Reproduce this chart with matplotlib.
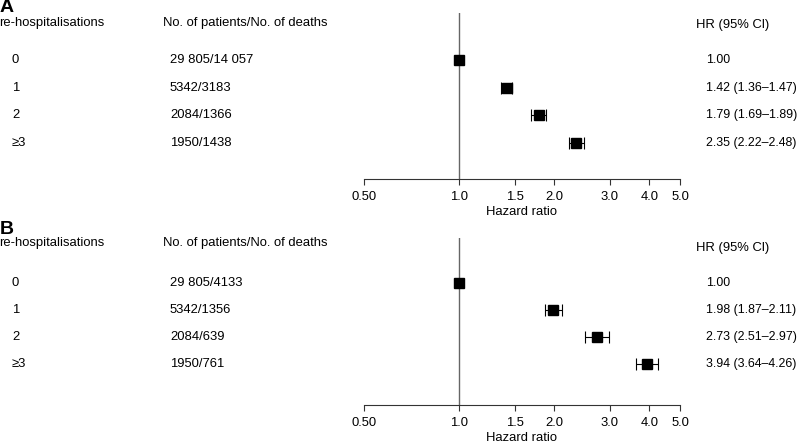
import matplotlib.pyplot as plt
import matplotlib.transforms as mtransforms

plt.rcParams['font.family'] = ['Liberation Sans', 'DejaVu Sans']

# data
groups = ['0', '1', '2', '\u22653']
counts_a = ['29 805/14 057', '5342/3183', '2084/1366', '1950/1438']
hr_a = [1.00, 1.42, 1.79, 2.35]
lo_a = [1.00, 1.36, 1.69, 2.22]
hi_a = [1.00, 1.47, 1.89, 2.48]
counts_b = ['29 805/4133', '5342/1356', '2084/639', '1950/761']
hr_b = [1.00, 1.98, 2.73, 3.94]
lo_b = [1.00, 1.87, 2.51, 3.64]
hi_b = [1.00, 2.11, 2.97, 4.26]
ticks = [0.5, 1.0, 1.5, 2.0, 3.0, 4.0, 5.0]
tick_labels = ['0.50', '1.0', '1.5', '2.0', '3.0', '4.0', '5.0']

W, H = 800, 443
fig = plt.figure(figsize=(W / 100, H / 100), dpi=100)
fs = 9.4


def panel(letter, letter_y, top, bottom, row0, step, counts, hr, lo, hi, hdr_y, hr_hdr_y):
    ax = fig.add_axes([364 / W, 1 - bottom / H, (680 - 364) / W, (bottom - top) / H])
    ax.set_xscale('log')
    ax.set_xlim(0.5, 5.0)
    ymin = (top - row0) / step
    ymax = (bottom - row0) / step
    ax.set_ylim(ymax, ymin)
    for s in ['top', 'right', 'left']:
        ax.spines[s].set_visible(False)
    ax.spines['bottom'].set_linewidth(0.8)
    ax.spines['bottom'].set_color('#333333')
    ax.set_yticks([])
    ax.set_xticks(ticks)
    ax.set_xticklabels(tick_labels, fontsize=fs)
    ax.xaxis.set_minor_locator(plt.NullLocator())
    ax.tick_params(axis='x', length=4, width=0.8, color='#333333', pad=5)
    ax.set_xlabel('Hazard ratio', fontsize=fs, labelpad=1.5)
    ax.axvline(1.0, color='#666666', lw=1, zorder=1)

    ys = list(range(len(hr)))
    for y, h, l, u in zip(ys, hr, lo, hi):
        if l != u:
            ax.errorbar(h, y, xerr=[[h - l], [u - h]], fmt='none', ecolor='black',
                        elinewidth=0.8, capsize=4, capthick=0.8, zorder=2)
    ax.plot(hr, ys, 's', color='black', ms=7, zorder=3, ls='none')

    tr = mtransforms.blended_transform_factory(fig.transFigure, ax.transData)
    fig.text(0 / W, 1 - letter_y / H, letter, fontsize=14, fontweight='bold',
             va='center', ha='left')
    hy = (hdr_y - row0) / step
    hry = (hr_hdr_y - row0) / step
    ax.text(-1 / W, hy, 're-hospitalisations', transform=tr, fontsize=fs, va='center', ha='left')
    ax.text(163 / W, hy, 'No. of patients/No. of deaths', transform=tr, fontsize=fs,
            va='center', ha='left')
    ax.text(696 / W, hry, 'HR (95% Cl)', transform=tr, fontsize=fs, va='center', ha='left')
    for y, g, c, h, l, u in zip(ys, groups, counts, hr, lo, hi):
        ax.text(12 / W, y, g, transform=tr, fontsize=fs, va='center', ha='left')
        ax.text(170 / W, y, c, transform=tr, fontsize=fs, va='center', ha='left')
        if l == u:
            lab = f'{h:.2f}'
        else:
            lab = f'{h:.2f} ({l:.2f}\u2013{u:.2f})'
        ax.text(706 / W, y, lab, transform=tr, fontsize=8.9, va='center', ha='left')
    return ax


panel('A', 8, 13, 179, 60, 27.7, counts_a, hr_a, lo_a, hi_a, 23, 25)
panel('B', 229, 238, 405, 283, 27.0, counts_b, hr_b, lo_b, hi_b, 243, 248)

fig.savefig('out.png', dpi=100)
